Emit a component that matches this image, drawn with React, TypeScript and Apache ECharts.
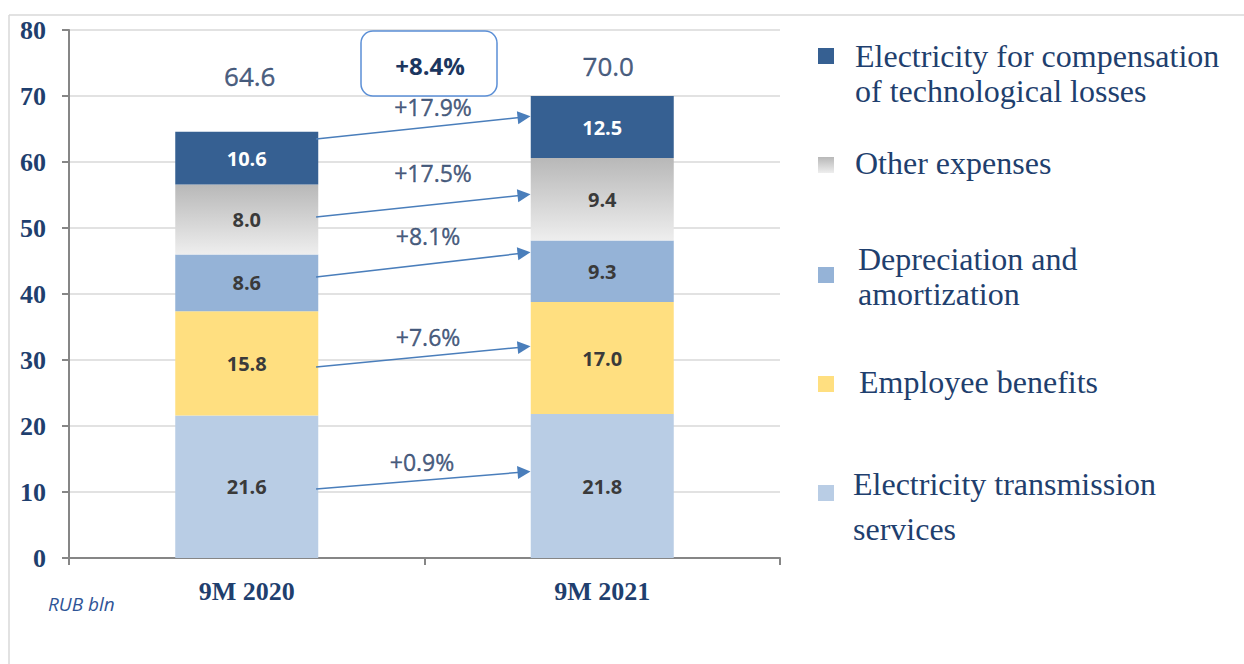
import React, { useEffect, useRef } from "react";
import * as echarts from "echarts";

const categories = ["9M 2020", "9M 2021"];
const seriesNames = [
  "Electricity transmission services",
  "Employee benefits",
  "Depreciation and amortization",
  "Other expenses",
  "Electricity for compensation of technological losses",
];
// values as labelled in the source
const transmission = [21.6, 21.8];
const employee = [15.8, 17.0];
const depreciation = [8.6, 9.3];
const otherExpenses = [8.0, 9.4];
const compensation = [10.6, 12.5];
// segment heights as drawn in the source (grey and dark segments drawn with swapped heights)
const otherExpensesHeight = [10.6, 12.5];
const compensationHeight = [8.0, 9.4];
const yMin = 0;
const yMax = 80;
const yInterval = 10;

// arrow anchors (value units) bottom -> top
const arrowStartY = [10.45, 28.94, 42.58, 51.67, 63.48];
const arrowEndY = [13.03, 31.97, 46.21, 55.0, 66.82];
const pctLabelX = [0.493, 0.51, 0.51, 0.524, 0.524];
const pctLabelY = [14.6, 33.5, 48.8, 58.4, 68.4];

const legendLines = [
  ["Electricity for compensation", "of technological losses"],
  ["Other expenses"],
  ["Depreciation and", "amortization"],
  ["Employee benefits"],
  ["Electricity transmission", "services"],
];

const NAVY = "#1f3f6e";
const DARK_NAVY = "#1b365f";
const colors = {
  transmission: "#b9cde5",
  employee: "#ffdf80",
  depreciation: "#95b3d7",
  compensation: "#366092",
};

export default function App() {
  const ref = useRef<HTMLDivElement>(null);
  useEffect(() => {
    if (!ref.current) return;
    const chart = echarts.init(ref.current, null, { renderer: "svg" });
    const grayGrad = () =>
      new echarts.graphic.LinearGradient(0, 0, 0, 1, [
        { offset: 0, color: "#b8b8b8" },
        { offset: 1, color: "#eeeeee" },
      ]);
    const labelValues = [transmission, employee, depreciation, otherExpenses, compensation];
    const heights = [transmission, employee, depreciation, otherExpensesHeight, compensationHeight];
    const stackColors = [colors.transmission, colors.employee, colors.depreciation, grayGrad(), colors.compensation];
    const totals = categories.map((_, i) => labelValues.reduce((s, arr) => s + arr[i], 0));
    const pct = labelValues.map((arr) => ((arr[1] / arr[0] - 1) * 100).toFixed(1));
    const totalPct = ((totals[1] / totals[0] - 1) * 100).toFixed(1);

    const barSeries = heights.map((arr, k) => ({
      name: seriesNames[k],
      type: "bar",
      stack: "total",
      barWidth: 143,
      data: arr,
      itemStyle: { color: stackColors[k] },
      label: {
        show: true,
        position: "inside",
        formatter: (p: any) => labelValues[k][p.dataIndex].toFixed(1),
        fontFamily: "Open Sans",
        fontWeight: "bold",
        fontSize: 20,
        color: k === 4 ? "#ffffff" : "#3a3a3a",
      },
    }));

    const totalOffsets = [
      [3, -56],
      [6, -30],
    ];

    const legendGraphics: any[] = [];
    const markerTops = [48, 157, 267, 376, 485];
    const textLeft = [855, 855, 858, 859, 853];
    const lineCenters = [[56, 91], [163], [259, 294], [382], [484, 529]];
    const legendColors = [colors.compensation, null, colors.depreciation, colors.employee, colors.transmission];
    legendLines.forEach((lines, i) => {
      legendGraphics.push({
        type: "rect",
        shape: { x: 818, y: markerTops[i], width: 16, height: 16 },
        style: { fill: legendColors[i] ?? grayGrad() },
      });
      lines.forEach((t, j) => {
        legendGraphics.push({
          type: "text",
          x: textLeft[i],
          y: lineCenters[i][j],
          style: {
            text: t,
            fontFamily: "Liberation Serif",
            fontSize: 32,
            fill: NAVY,
            verticalAlign: "middle",
            align: "left",
          },
        });
      });
    });

    chart.setOption({
      animation: false,
      grid: { left: 69, top: 30, right: 464, bottom: 106, containLabel: false },
      xAxis: [
        {
          type: "category",
          data: categories,
          axisLine: { lineStyle: { color: "#868686", width: 2 } },
          axisTick: { show: true, length: 7, lineStyle: { color: "#868686", width: 2 } },
          axisLabel: {
            fontFamily: "Liberation Serif",
            fontWeight: "bold",
            fontSize: 26,
            color: NAVY,
            margin: 20,
          },
        },
        { type: "value", min: -0.5, max: 1.5, show: false },
      ],
      yAxis: {
        type: "value",
        min: yMin,
        max: yMax,
        interval: yInterval,
        axisLine: { show: true, onZero: false, lineStyle: { color: "#868686", width: 2 } },
        axisTick: { show: true, length: 7, lineStyle: { color: "#868686", width: 2 } },
        axisLabel: {
          fontFamily: "Liberation Serif",
          fontWeight: "bold",
          fontSize: 26,
          color: NAVY,
          margin: 23,
        },
        splitLine: { lineStyle: { color: "#d9d9d9", width: 1.5 } },
      },
      series: [
        ...barSeries,
        {
          type: "scatter",
          symbolSize: 0,
          data: totals.map((v, i) => ({
            value: [i, Number(v.toFixed(1))],
            label: { offset: totalOffsets[i] },
          })),
          label: {
            show: true,
            position: "inside",
            formatter: (p: any) => Number(p.value[1]).toFixed(1),
            fontFamily: "Open Sans",
            fontSize: 26,
            color: DARK_NAVY,
            textBorderColor: DARK_NAVY,
            textBorderWidth: 0.4,
          },
          z: 5,
        },
        {
          type: "lines",
          coordinateSystem: "cartesian2d",
          xAxisIndex: 1,
          yAxisIndex: 0,
          symbol: ["none", "triangle"],
          symbolSize: [0, 13],
          lineStyle: { color: "#4a7ebb", width: 1.5, opacity: 1 },
          data: arrowStartY.map((y, i) => ({
            coords: [
              [0.195, y],
              [0.78, arrowEndY[i]],
            ],
          })),
          z: 6,
        },
        {
          type: "scatter",
          xAxisIndex: 1,
          yAxisIndex: 0,
          symbolSize: 0,
          data: pctLabelX.map((x, i) => ({ value: [x, pctLabelY[i]], name: "+" + pct[i] + "%" })),
          label: {
            show: true,
            position: "inside",
            formatter: (p: any) => p.name,
            fontFamily: "Open Sans",
            fontSize: 23,
            color: DARK_NAVY,
            textBorderColor: DARK_NAVY,
            textBorderWidth: 0.4,
          },
          z: 7,
        },
      ],
      graphic: [
        {
          type: "line",
          shape: { x1: 9, y1: 15, x2: 1244, y2: 15 },
          style: { stroke: "#d9d9d9", lineWidth: 1.5 },
        },
        {
          type: "line",
          shape: { x1: 9, y1: 15, x2: 9, y2: 664 },
          style: { stroke: "#d9d9d9", lineWidth: 1.5 },
        },
        {
          type: "rect",
          shape: { x: 361, y: 31, width: 136, height: 65, r: 12 },
          style: { fill: "#ffffff", stroke: "#5b8fd6", lineWidth: 1.5 },
          z: 10,
        },
        {
          type: "text",
          x: 430,
          y: 65,
          z: 11,
          style: {
            text: "+" + totalPct + "%",
            fontFamily: "Open Sans",
            fontWeight: "bold",
            fontSize: 24,
            fill: DARK_NAVY,
            align: "center",
            verticalAlign: "middle",
          },
        },
        {
          type: "text",
          x: 48,
          y: 604,
          style: {
            text: "RUB bln",
            fontFamily: "Open Sans",
            fontStyle: "italic",
            fontSize: 19,
            fill: "#2f5597",
            align: "left",
            verticalAlign: "middle",
          },
        },
        ...legendGraphics,
      ],
    });
    return () => chart.dispose();
  }, []);
  return (
    <div
      ref={ref}
      style={{ position: "fixed", left: 0, top: 0, width: 1244, height: 664, background: "#fff" }}
    />
  );
}
